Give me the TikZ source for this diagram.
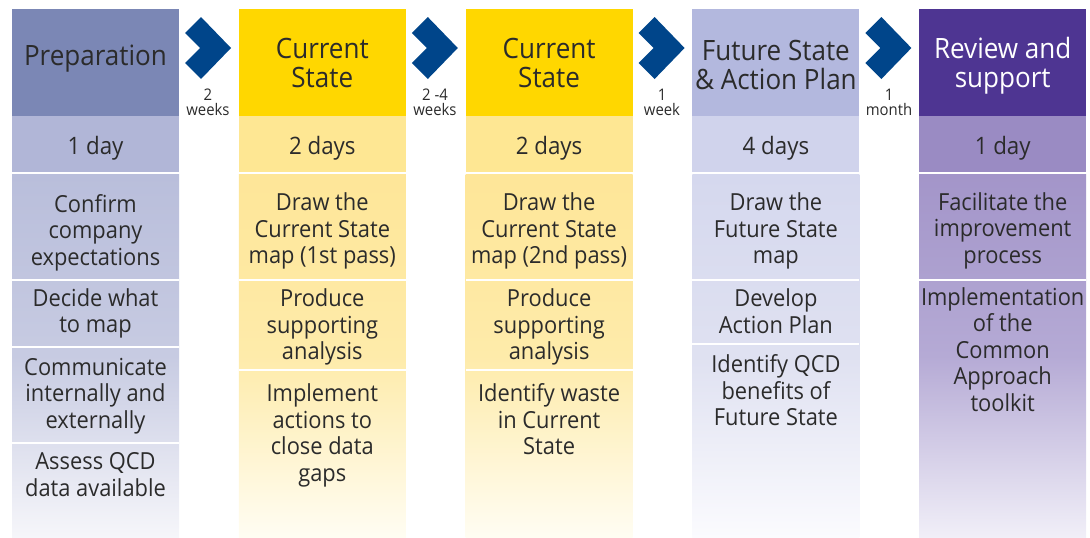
\documentclass[tikz,border=0pt]{standalone}
\usepackage{fontspec}
\setmainfont{Open Sans}[FakeStretch=0.93]
\definecolor{txt}{HTML}{2B2B2B}
\definecolor{chev}{HTML}{00458A}
\definecolor{aHead}{HTML}{7B87B5}\definecolor{aDay}{HTML}{B1B6D7}
\definecolor{aTop}{HTML}{B9BEDB}\definecolor{aMid}{HTML}{C7CBE2}\definecolor{aBot}{HTML}{F6F6FA}
\definecolor{bHead}{HTML}{FFD700}\definecolor{bDay}{HTML}{FEE793}
\definecolor{bTop}{HTML}{FEE698}\definecolor{bMid}{HTML}{FEEBAA}\definecolor{bBot}{HTML}{FFFDF3}
\definecolor{cHead}{HTML}{B3B8DE}\definecolor{cDay}{HTML}{D0D3EC}
\definecolor{cTop}{HTML}{D5D8EE}\definecolor{cMid}{HTML}{DFE1F1}\definecolor{cBot}{HTML}{FBFBFE}
\definecolor{dHead}{HTML}{4E3592}\definecolor{dDay}{HTML}{9A8BC3}
\definecolor{dTop}{HTML}{A395C9}\definecolor{dMid}{HTML}{B5AAD5}\definecolor{dBot}{HTML}{F1EFF8}
\tikzset{
  hdrtext/.style={font=\fontsize{28}{29}\selectfont, text=txt, align=center, inner sep=0pt, anchor=base},
  daytext/.style={font=\fontsize{24}{26}\selectfont, text=txt, inner sep=0pt, anchor=base},
  itemtext/.style={font=\fontsize{23.5}{26.5}\selectfont, text=txt, align=center, inner sep=0pt, anchor=base},
  gaptext/.style={font=\fontsize{16}{15}\selectfont, text=txt, align=center, inner sep=0pt, anchor=base},
  chevshape/.style={fill=chev},
}
\newcommand\drawcol[7]{%
  \fill[#2] (#1,9) rectangle ++(167,107);
  \fill[#3] (#1,116) rectangle ++(167,56);
  \shade[top color=#4, bottom color=#6, middle color=#5] (#1,174) rectangle ++(167,364);
  \foreach \s in {#7} {\fill[white] (#1,\s) rectangle ++(167,2);}
}
\newcommand\chevat[1]{%
  \fill[chevshape] (#1+6,33) -- (#1+22,17) -- (#1+52,48) -- (#1+22,79) -- (#1+6,63) -- (#1+21,48) -- cycle;
}
\begin{document}
\begin{tikzpicture}[x=1pt,y=-1pt]
\useasboundingbox (0,0) rectangle (1090,538);
% columns
\drawcol{12}{aHead}{aDay}{aTop}{aMid}{aBot}{279,346,442}
\drawcol{238.8}{bHead}{bDay}{bTop}{bMid}{bBot}{279,369}
\drawcol{465.6}{bHead}{bDay}{bTop}{bMid}{bBot}{279,369}
\drawcol{692.4}{cHead}{cDay}{cTop}{cMid}{cBot}{279,343}
\drawcol{919.2}{dHead}{dDay}{dTop}{dMid}{dBot}{279}
% chevrons
\chevat{179}
\chevat{405.8}
\chevat{632.6}
\chevat{859.4}
% gap labels (base = last line)
\node[gaptext] (g1) at (208,115) {2\\weeks};
\node[gaptext] (g2) at (435,115) {2 -4\\weeks};
\node[gaptext] (g3) at (662,115) {1\\week};
\node[gaptext] (g4) at (889,115) {1\\month};
% headers
\node[hdrtext] (h1) at (95.5,65.5) {Preparation};
\node[hdrtext] (h2) at (322.3,87.5) {Current\\State};
\node[hdrtext] (h3) at (549.1,87.5) {Current\\State};
\node[hdrtext] (h4) at (775.9,89.5) {Future State\\\& Action Plan};
\node[hdrtext, text=white] (h5) at (1002.7,87.5) {Review and\\support};
% days
\node[daytext] (d1) at (95.5,154) {1 day};
\node[daytext] (d2) at (322.3,154) {2 days};
\node[daytext] (d3) at (549.1,154) {2 days};
\node[daytext] (d4) at (775.9,154) {4 days};
\node[daytext] (d5) at (1002.7,154) {1 day};
% column 1 items
\node[itemtext] (a1) at (95.5,265) {Confirm\\company\\expectations};
\node[itemtext] (a2) at (95.5,332.5) {Decide what\\to map};
\node[itemtext] (a3) at (95.5,428) {Communicate\\internally and\\externally};
\node[itemtext] (a4) at (95.5,496) {Assess QCD\\data available};
% column 2 items
\node[itemtext] (b1) at (322.3,263.5) {Draw the\\Current State\\map (1st pass)};
\node[itemtext] (b2) at (322.3,359.5) {Produce\\supporting\\analysis};
\node[itemtext] (b3) at (322.3,481) {Implement\\actions to\\close data\\gaps};
% column 3 items
\node[itemtext] (c1) at (549.1,263.5) {Draw the\\Current State\\map (2nd pass)};
\node[itemtext] (c2) at (549.1,359.5) {Produce\\supporting\\analysis};
\node[itemtext] (c3) at (549.1,454.5) {Identify waste\\in Current\\State};
% column 4 items
\node[itemtext] (e1) at (775.9,263.5) {Draw the\\Future State\\map};
\node[itemtext] (e2) at (775.9,333) {Develop\\Action Plan};
\node[itemtext] (e3) at (775.9,425.5) {Identify QCD\\benefits of\\Future State};
% column 5 items
\node[itemtext] (f1) at (1002.7,263) {Facilitate the\\improvement\\process};
\node[itemtext] (f2) at (1002.7,411) {Implementation\\of the\\Common\\Approach\\toolkit};
\end{tikzpicture}
\end{document}
